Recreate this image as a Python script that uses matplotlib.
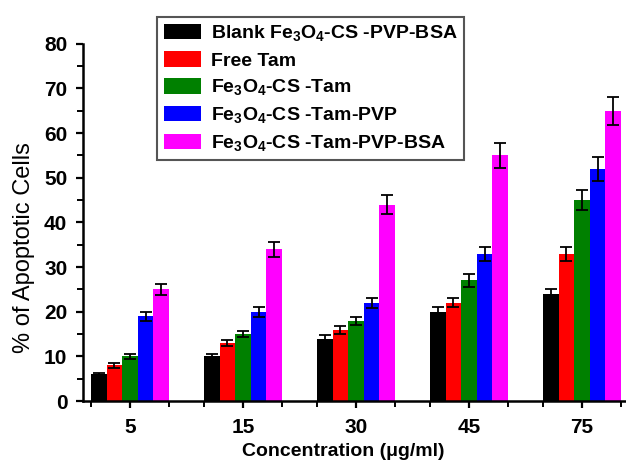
import matplotlib
matplotlib.use("Agg")
import matplotlib.pyplot as plt
from matplotlib.ticker import FixedLocator, MultipleLocator
import numpy as np

plt.rcParams.update({
    'font.family': ['Liberation Sans', 'DejaVu Sans'],
    'font.size': 13,
    'mathtext.fontset': 'custom',
    'mathtext.bf': 'Liberation Sans:bold',
    'mathtext.rm': 'Liberation Sans:bold',
    'mathtext.default': 'bf',
})

concentrations = ["5", "15", "30", "45", "75"]
series = ["Blank Fe$_3$O$_4$-CS -PVP-BSA", "Free Tam", "Fe$_3$O$_4$-CS -Tam",
          "Fe$_3$O$_4$-CS -Tam-PVP", "Fe$_3$O$_4$-CS -Tam-PVP-BSA"]
colors = ["#000000", "#ff0000", "#008000", "#0000ff", "#ff00ff"]

blank = [6, 10, 14, 20, 24]
free_tam = [8, 13, 16, 22, 33]
cs_tam = [10, 15, 18, 27, 45]
cs_tam_pvp = [19, 20, 22, 33, 52]
cs_tam_pvp_bsa = [25, 34, 44, 55, 65]

blank_err = [0.3, 0.5, 0.7, 1.0, 1.1]
free_tam_err = [0.5, 0.75, 0.9, 1.0, 1.6]
cs_tam_err = [0.5, 0.75, 0.9, 1.4, 2.2]
cs_tam_pvp_err = [1.0, 1.1, 1.1, 1.6, 2.7]
cs_tam_pvp_bsa_err = [1.3, 1.7, 2.1, 2.8, 3.1]

values = [blank, free_tam, cs_tam, cs_tam_pvp, cs_tam_pvp_bsa]
errors = [blank_err, free_tam_err, cs_tam_err, cs_tam_pvp_err, cs_tam_pvp_bsa_err]

fig = plt.figure(figsize=(6.26, 4.61), dpi=100)
ax = fig.add_axes([0.132, 0.130, 0.868, 0.775])

x = np.arange(len(concentrations))
w = 0.138
handles = []
for i, (vals, errs, col, lab) in enumerate(zip(values, errors, colors, series)):
    pos = x + (i - 2) * w
    b = ax.bar(pos, vals, width=w, color=col, label=lab, zorder=2)
    ax.errorbar(pos, vals, yerr=errs, fmt="none", ecolor="black",
                elinewidth=1.3, capsize=4, capthick=1.3, zorder=3)
    handles.append(b)

ax.set_xlim(-0.42, 4.39)
ax.set_ylim(0, 80)
ax.set_xticks(x)
ax.set_xticklabels(concentrations, fontweight="bold")
ax.xaxis.set_minor_locator(FixedLocator(np.concatenate([x - 0.345, x + 0.345])))
ax.yaxis.set_major_locator(MultipleLocator(10))
ax.yaxis.set_minor_locator(MultipleLocator(5))
for lab in ax.get_yticklabels():
    lab.set_fontweight("bold")

ax.spines["top"].set_visible(False)
ax.spines["right"].set_visible(False)
ax.spines["left"].set_linewidth(1.8)
ax.spines["bottom"].set_linewidth(1.8)
ax.tick_params(which="major", direction="out", length=5, width=1.6, labelsize=15)
ax.tick_params(which="minor", direction="out", length=4, width=1.4)
ax.tick_params(axis="x", pad=7)
ax.tick_params(axis="y", pad=6)

ax.set_xlabel("Concentration (\u03bcg/ml)", fontweight="bold", fontsize=14)
ax.set_ylabel("% of Apoptotic Cells", fontsize=17)
ax.xaxis.set_label_coords(0.48, -0.118)
ax.yaxis.set_label_coords(-0.088, 0.43)

leg = fig.legend(handles=handles, loc="upper left", bbox_to_anchor=(0.236, 0.985),
                 prop={"weight": "bold", "size": 14},
                 handlelength=1.9, handleheight=0.85, labelspacing=0.4,
                 handletextpad=0.5, borderpad=0.35, fancybox=False,
                 framealpha=1, edgecolor="#555555")
leg.get_frame().set_linewidth(1.5)

fig.savefig("out.png", dpi=100)
